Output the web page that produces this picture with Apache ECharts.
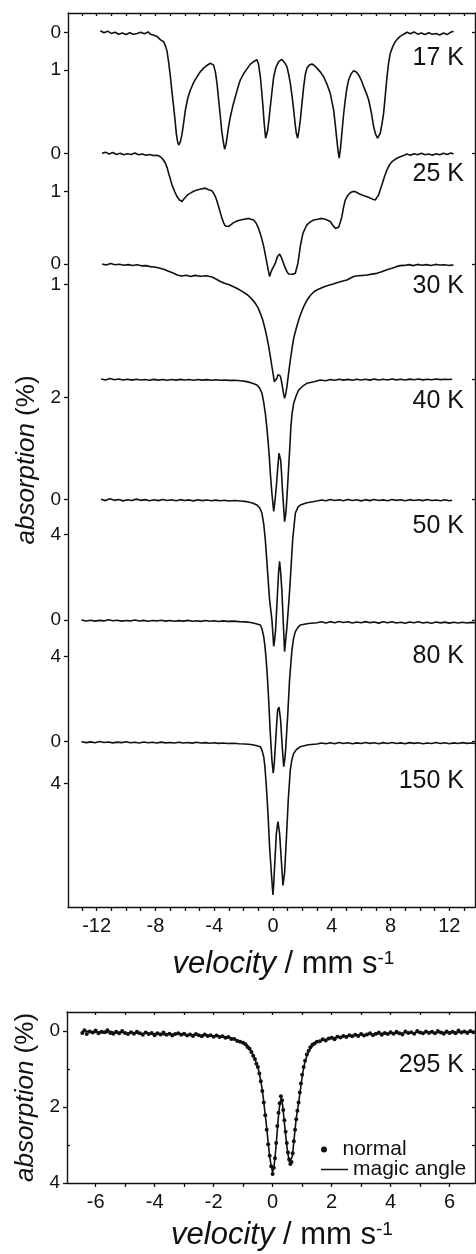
<!DOCTYPE html>
<html>
<head>
<meta charset="utf-8">
<script src="https://cdn.jsdelivr.net/npm/echarts@6/dist/echarts.min.js"></script>
<style>
  html, body { margin: 0; padding: 0; background: #fff; }
  #chart { width: 476px; height: 1254px; }
</style>
</head>
<body>
<div id="chart"></div>
<script>
// Mössbauer spectra: velocity (mm/s) vs absorption (%)
const temps = ['17 K', '25 K', '30 K', '40 K', '50 K', '80 K', '150 K'];
const scaleTicks = [1, 1, 1, 2, 4, 4, 4];

const s17K = [[-11.75,-0.04],[-11.5,0.01],[-11.25,-0.03],[-11.0,0.03],[-10.75,0.0],[-10.5,0.05],[-10.25,0.02],[-10.0,0.06],[-9.75,0.01],[-9.5,0.05],[-9.25,0.03],[-9.0,0.0],[-8.75,0.04],[-8.5,-0.01],[-8.34,0.05],[-8.1,0.08],[-7.89,0.11],[-7.65,0.2],[-7.44,0.25],[-7.3,0.38],[-7.21,0.5],[-7.1,0.8],[-6.98,1.18],[-6.87,1.6],[-6.76,1.97],[-6.66,2.35],[-6.58,2.68],[-6.5,2.88],[-6.42,2.99],[-6.3,2.9],[-6.19,2.7],[-6.08,2.4],[-5.96,2.06],[-5.8,1.75],[-5.62,1.53],[-5.4,1.33],[-5.17,1.18],[-4.95,1.05],[-4.72,0.95],[-4.5,0.88],[-4.26,0.82],[-4.15,0.83],[-4.04,0.87],[-3.92,1.05],[-3.81,1.35],[-3.7,1.78],[-3.58,2.24],[-3.49,2.6],[-3.4,2.86],[-3.29,3.1],[-3.2,2.98],[-3.13,2.8],[-3.02,2.5],[-2.9,2.24],[-2.73,1.95],[-2.56,1.71],[-2.4,1.48],[-2.22,1.26],[-2.0,1.1],[-1.77,0.97],[-1.55,0.85],[-1.32,0.78],[-1.2,0.76],[-1.09,0.73],[-0.98,0.85],[-0.86,1.18],[-0.77,1.55],[-0.68,1.97],[-0.59,2.45],[-0.5,2.81],[-0.42,2.78],[-0.36,2.6],[-0.27,2.3],[-0.18,1.97],[-0.06,1.55],[0.05,1.18],[0.2,0.93],[0.39,0.78],[0.5,0.74],[0.61,0.72],[0.78,0.8],[0.95,0.91],[1.06,1.1],[1.18,1.35],[1.3,1.7],[1.41,2.06],[1.5,2.4],[1.59,2.68],[1.68,2.81],[1.77,2.6],[1.86,2.33],[1.97,1.9],[2.09,1.44],[2.2,1.12],[2.31,0.95],[2.48,0.87],[2.65,0.84],[2.82,0.88],[2.99,0.95],[3.22,1.05],[3.45,1.18],[3.68,1.38],[3.9,1.62],[4.02,1.85],[4.13,2.06],[4.24,2.45],[4.35,2.86],[4.43,3.15],[4.51,3.34],[4.6,3.05],[4.69,2.68],[4.8,2.2],[4.92,1.79],[5.03,1.48],[5.15,1.26],[5.32,1.1],[5.49,1.02],[5.66,1.05],[5.83,1.13],[6.0,1.26],[6.17,1.44],[6.34,1.6],[6.51,1.79],[6.68,2.1],[6.85,2.5],[6.98,2.7],[7.12,2.81],[7.21,2.78],[7.3,2.68],[7.41,2.45],[7.53,2.15],[7.64,1.7],[7.76,1.18],[7.87,0.82],[7.98,0.56],[8.15,0.38],[8.32,0.25],[8.49,0.17],[8.66,0.11],[8.9,0.05],[9.12,0.0],[9.35,0.04],[9.6,-0.01],[9.85,0.05],[10.1,0.02],[10.35,0.06],[10.6,0.01],[10.85,0.05],[11.1,0.03],[11.35,0.07],[11.6,0.02],[11.85,0.06],[12.1,0.0],[12.29,-0.03]];

const s25K = [[-11.63,0.0],[-11.4,-0.03],[-11.15,0.02],[-10.9,-0.02],[-10.65,0.03],[-10.4,0.0],[-10.15,0.04],[-9.9,0.01],[-9.65,0.03],[-9.4,-0.01],[-9.15,0.04],[-8.9,0.02],[-8.65,0.05],[-8.4,0.03],[-8.15,0.06],[-7.89,0.05],[-7.66,0.09],[-7.5,0.15],[-7.32,0.26],[-7.2,0.38],[-7.1,0.52],[-6.98,0.68],[-6.87,0.83],[-6.7,0.99],[-6.53,1.13],[-6.36,1.22],[-6.19,1.26],[-6.08,1.2],[-5.96,1.15],[-5.8,1.08],[-5.62,1.04],[-5.4,0.99],[-5.17,0.96],[-4.9,0.93],[-4.6,0.91],[-4.38,0.95],[-4.15,0.98],[-4.03,1.05],[-3.92,1.13],[-3.81,1.25],[-3.7,1.39],[-3.58,1.55],[-3.47,1.7],[-3.35,1.82],[-3.24,1.9],[-3.02,1.91],[-2.85,1.86],[-2.68,1.81],[-2.45,1.77],[-2.22,1.74],[-1.95,1.72],[-1.66,1.7],[-1.49,1.72],[-1.32,1.74],[-1.15,1.82],[-0.98,1.96],[-0.8,2.18],[-0.63,2.43],[-0.52,2.65],[-0.41,2.87],[-0.32,3.05],[-0.23,3.22],[-0.15,3.12],[-0.07,3.04],[0.05,2.95],[0.16,2.87],[0.3,2.7],[0.45,2.63],[0.57,2.72],[0.68,2.83],[0.82,2.98],[0.95,3.09],[1.06,3.15],[1.18,3.17],[1.35,3.16],[1.52,3.13],[1.61,3.0],[1.7,2.87],[1.78,2.65],[1.86,2.43],[1.95,2.25],[2.04,2.09],[2.18,1.97],[2.31,1.87],[2.54,1.79],[2.77,1.74],[3.05,1.72],[3.33,1.7],[3.6,1.73],[3.9,1.78],[4.07,1.88],[4.24,1.96],[4.35,1.97],[4.47,1.93],[4.58,1.8],[4.69,1.65],[4.8,1.42],[4.92,1.22],[5.09,1.1],[5.26,1.03],[5.43,1.0],[5.6,1.0],[5.83,1.05],[6.05,1.09],[6.35,1.13],[6.62,1.17],[6.8,1.2],[6.96,1.22],[7.08,1.15],[7.19,1.09],[7.3,0.95],[7.41,0.83],[7.58,0.62],[7.76,0.43],[7.93,0.3],[8.1,0.22],[8.27,0.17],[8.44,0.13],[8.66,0.09],[8.89,0.06],[9.1,0.02],[9.35,0.05],[9.6,0.01],[9.85,0.04],[10.1,0.0],[10.35,0.04],[10.6,0.02],[10.85,0.05],[11.1,0.01],[11.35,0.04],[11.6,0.0],[11.85,0.03],[12.1,-0.01],[12.29,0.02]];

const s30K = [[-11.63,0.0],[-11.35,0.05],[-11.05,-0.02],[-10.75,0.04],[-10.45,0.01],[-10.15,0.06],[-9.85,0.03],[-9.55,0.07],[-9.25,0.04],[-8.95,0.09],[-8.65,0.08],[-8.34,0.13],[-8.05,0.15],[-7.75,0.2],[-7.44,0.26],[-7.1,0.36],[-6.76,0.46],[-6.47,0.55],[-6.19,0.59],[-5.9,0.55],[-5.6,0.62],[-5.3,0.56],[-4.94,0.6],[-4.55,0.58],[-4.15,0.64],[-3.85,0.75],[-3.58,0.86],[-3.3,0.95],[-2.98,1.02],[-2.68,1.12],[-2.4,1.22],[-2.1,1.35],[-1.77,1.5],[-1.5,1.68],[-1.2,1.94],[-1.02,2.15],[-0.86,2.43],[-0.68,2.8],[-0.52,3.25],[-0.4,3.65],[-0.29,4.07],[-0.18,4.55],[-0.07,5.06],[0.02,5.45],[0.09,5.8],[0.18,5.72],[0.27,5.63],[0.34,5.45],[0.41,5.38],[0.48,5.5],[0.54,5.63],[0.61,5.9],[0.68,6.21],[0.74,6.45],[0.79,6.62],[0.87,6.4],[0.95,6.04],[1.06,5.4],[1.18,4.73],[1.3,4.15],[1.41,3.66],[1.58,3.18],[1.75,2.76],[1.92,2.4],[2.09,2.1],[2.3,1.8],[2.54,1.55],[2.77,1.38],[2.99,1.28],[3.4,1.15],[3.79,1.05],[4.1,0.98],[4.35,0.92],[4.7,0.85],[5.03,0.79],[5.26,0.7],[5.49,0.62],[5.8,0.58],[6.1,0.56],[6.39,0.54],[6.73,0.5],[7.07,0.46],[7.4,0.38],[7.75,0.28],[8.1,0.21],[8.4,0.13],[8.66,0.08],[8.95,0.07],[9.25,0.03],[9.55,0.08],[9.85,0.02],[10.15,0.06],[10.45,0.03],[10.75,0.07],[11.05,0.02],[11.35,0.05],[11.65,0.04],[12.0,0.07],[12.29,0.05]];

const s40K = [[-11.7,0.0],[-11.4,0.1],[-11.1,-0.05],[-10.8,0.08],[-10.5,0.0],[-10.2,0.1],[-9.9,0.03],[-9.6,0.12],[-9.3,0.02],[-9.0,0.1],[-8.7,0.05],[-8.4,0.13],[-8.1,0.04],[-7.8,0.12],[-7.5,0.06],[-7.2,0.14],[-6.9,0.05],[-6.6,0.12],[-6.3,0.04],[-6.0,0.11],[-5.7,0.06],[-5.4,0.13],[-5.1,0.05],[-4.8,0.12],[-4.5,0.07],[-4.2,0.13],[-3.9,0.08],[-3.6,0.14],[-3.3,0.1],[-3.0,0.15],[-2.6,0.13],[-2.2,0.18],[-1.77,0.28],[-1.4,0.45],[-1.09,0.64],[-0.9,1.0],[-0.75,1.53],[-0.63,2.5],[-0.52,3.68],[-0.43,5.0],[-0.34,6.54],[-0.25,8.3],[-0.18,10.1],[-0.07,12.3],[0.05,14.2],[0.14,13.0],[0.23,11.5],[0.32,9.6],[0.41,7.96],[0.47,8.1],[0.52,8.68],[0.58,10.0],[0.63,11.5],[0.72,13.6],[0.79,15.3],[0.86,14.6],[0.91,13.7],[0.99,11.6],[1.07,9.4],[1.15,7.2],[1.22,5.11],[1.3,3.7],[1.41,2.6],[1.58,1.8],[1.75,1.18],[2.0,0.8],[2.31,0.46],[2.8,0.3],[3.22,0.11],[3.6,0.18],[3.9,0.05],[4.2,0.14],[4.5,0.03],[4.8,0.12],[5.1,0.04],[5.4,0.13],[5.7,0.02],[6.0,0.1],[6.3,0.03],[6.6,0.12],[6.9,0.01],[7.2,0.1],[7.5,0.03],[7.8,0.11],[8.1,0.0],[8.4,0.09],[8.7,0.02],[9.0,0.1],[9.3,0.01],[9.6,0.08],[9.9,0.0],[10.2,0.09],[10.5,0.02],[10.8,0.08],[11.1,0.0],[11.4,0.07],[11.7,0.02],[12.0,0.06],[12.2,0.03]];

const s50K = [[-11.7,0.0],[-11.4,0.15],[-11.1,-0.05],[-10.8,0.12],[-10.5,0.02],[-10.2,0.18],[-9.9,0.05],[-9.6,0.14],[-9.3,-0.02],[-9.0,0.12],[-8.7,0.04],[-8.4,0.16],[-8.1,0.06],[-7.8,0.15],[-7.5,0.02],[-7.2,0.13],[-6.9,0.05],[-6.6,0.17],[-6.3,0.04],[-6.0,0.14],[-5.7,0.07],[-5.4,0.18],[-5.1,0.06],[-4.8,0.15],[-4.5,0.08],[-4.2,0.17],[-3.9,0.09],[-3.6,0.16],[-3.3,0.1],[-3.0,0.19],[-2.6,0.14],[-2.2,0.2],[-1.77,0.27],[-1.4,0.42],[-1.09,0.65],[-0.9,1.0],[-0.75,1.6],[-0.63,2.8],[-0.52,4.65],[-0.44,6.5],[-0.36,8.46],[-0.23,11.5],[-0.07,13.8],[0.05,16.8],[0.12,16.0],[0.18,14.9],[0.3,11.0],[0.38,8.4],[0.45,7.1],[0.52,8.3],[0.61,10.5],[0.7,14.0],[0.79,17.4],[0.88,15.8],[0.95,14.6],[1.09,11.5],[1.18,9.2],[1.34,4.65],[1.52,1.6],[1.7,0.9],[1.86,0.65],[2.3,0.4],[2.99,0.2],[3.3,0.08],[3.6,0.17],[3.9,0.03],[4.2,0.14],[4.5,0.05],[4.8,0.16],[5.1,0.02],[5.4,0.13],[5.7,0.06],[6.0,0.18],[6.3,0.04],[6.6,0.15],[6.9,0.03],[7.2,0.14],[7.5,0.07],[7.8,0.16],[8.1,0.02],[8.4,0.12],[8.7,0.05],[9.0,0.17],[9.3,0.04],[9.6,0.13],[9.9,0.06],[10.2,0.15],[10.5,0.03],[10.8,0.14],[11.1,0.08],[11.4,0.16],[11.7,0.05],[12.0,0.17],[12.2,0.1]];

const s80K = [[-13.04,0.0],[-12.7,0.1],[-12.4,0.02],[-12.1,0.12],[-11.8,0.04],[-11.5,0.1],[-11.2,-0.02],[-10.9,0.09],[-10.6,0.03],[-10.3,0.12],[-10.0,0.05],[-9.7,0.1],[-9.4,0.0],[-9.1,0.11],[-8.8,0.04],[-8.5,0.13],[-8.2,0.06],[-7.9,0.1],[-7.6,0.02],[-7.3,0.12],[-7.0,0.05],[-6.7,0.14],[-6.4,0.07],[-6.1,0.12],[-5.8,0.04],[-5.5,0.13],[-5.2,0.08],[-4.9,0.15],[-4.6,0.06],[-4.3,0.13],[-4.0,0.09],[-3.7,0.16],[-3.4,0.1],[-3.1,0.15],[-2.7,0.12],[-2.3,0.18],[-1.9,0.2],[-1.5,0.28],[-1.15,0.4],[-0.86,0.55],[-0.75,0.95],[-0.63,1.82],[-0.55,2.8],[-0.48,4.0],[-0.41,5.5],[-0.34,7.3],[-0.26,9.8],[-0.18,12.4],[-0.07,15.3],[0.02,16.7],[0.09,15.6],[0.16,13.8],[0.24,11.6],[0.32,9.8],[0.41,9.5],[0.52,10.9],[0.63,13.8],[0.73,16.0],[0.79,15.4],[0.86,14.2],[1.0,10.5],[1.13,6.5],[1.29,3.3],[1.4,2.0],[1.52,1.27],[1.7,0.8],[1.86,0.55],[2.4,0.38],[2.99,0.3],[3.3,0.2],[3.6,0.32],[3.9,0.18],[4.2,0.3],[4.5,0.16],[4.8,0.28],[5.1,0.2],[5.4,0.33],[5.7,0.22],[6.0,0.3],[6.3,0.18],[6.6,0.29],[6.9,0.21],[7.2,0.34],[7.5,0.2],[7.8,0.3],[8.1,0.19],[8.4,0.32],[8.7,0.24],[9.0,0.36],[9.3,0.22],[9.6,0.3],[9.9,0.2],[10.2,0.33],[10.5,0.24],[10.8,0.35],[11.1,0.22],[11.4,0.31],[11.7,0.23],[12.0,0.34],[12.3,0.25],[12.6,0.33],[12.9,0.24],[13.2,0.32],[13.5,0.26],[13.75,0.3]];

const s150K = [[-13.04,0.0],[-12.7,0.09],[-12.4,0.02],[-12.1,0.1],[-11.8,-0.02],[-11.5,0.08],[-11.2,0.03],[-10.9,0.11],[-10.6,0.04],[-10.3,0.09],[-10.0,0.01],[-9.7,0.1],[-9.4,0.05],[-9.1,0.12],[-8.8,0.03],[-8.5,0.1],[-8.2,0.06],[-7.9,0.13],[-7.6,0.04],[-7.3,0.11],[-7.0,0.07],[-6.7,0.12],[-6.4,0.05],[-6.1,0.13],[-5.8,0.08],[-5.5,0.14],[-5.2,0.06],[-4.9,0.12],[-4.6,0.09],[-4.3,0.15],[-4.0,0.1],[-3.7,0.16],[-3.4,0.12],[-3.1,0.17],[-2.7,0.15],[-2.3,0.19],[-1.9,0.22],[-1.5,0.27],[-1.15,0.36],[-0.86,0.48],[-0.75,0.8],[-0.63,1.44],[-0.55,2.4],[-0.48,3.68],[-0.41,5.2],[-0.34,6.88],[-0.23,10.1],[-0.11,12.6],[0.0,14.7],[0.05,13.7],[0.11,12.0],[0.23,8.8],[0.34,7.68],[0.45,8.8],[0.57,11.4],[0.68,13.8],[0.79,12.6],[0.91,9.4],[1.04,5.6],[1.18,2.7],[1.29,1.7],[1.41,1.12],[1.6,0.75],[1.86,0.48],[2.4,0.3],[2.99,0.22],[3.3,0.12],[3.6,0.2],[3.9,0.1],[4.2,0.19],[4.5,0.08],[4.8,0.17],[5.1,0.1],[5.4,0.2],[5.7,0.11],[6.0,0.18],[6.3,0.07],[6.6,0.16],[6.9,0.1],[7.2,0.19],[7.5,0.09],[7.8,0.17],[8.1,0.08],[8.4,0.18],[8.7,0.11],[9.0,0.2],[9.3,0.09],[9.6,0.16],[9.9,0.1],[10.2,0.19],[10.5,0.12],[10.8,0.18],[11.1,0.08],[11.4,0.17],[11.7,0.1],[12.0,0.19],[12.3,0.11],[12.6,0.18],[12.9,0.09],[13.2,0.16],[13.5,0.12],[13.75,0.17]];

// 295 K: magic-angle measurement (line) and normal geometry (points)
const magic295K = [[-6.47,0.03],[-6.3,0.0],[-6.1,0.05],[-5.9,0.02],[-5.7,0.06],[-5.5,0.01],[-5.3,0.05],[-5.1,0.03],[-4.9,0.07],[-4.7,0.04],[-4.5,0.08],[-4.3,0.05],[-4.1,0.08],[-3.9,0.06],[-3.7,0.1],[-3.5,0.07],[-3.3,0.09],[-3.1,0.07],[-2.9,0.11],[-2.7,0.09],[-2.5,0.12],[-2.3,0.1],[-2.1,0.13],[-1.9,0.12],[-1.7,0.15],[-1.5,0.17],[-1.33,0.2],[-1.1,0.27],[-0.88,0.36],[-0.75,0.5],[-0.66,0.62],[-0.57,0.8],[-0.49,0.97],[-0.43,1.2],[-0.37,1.46],[-0.31,1.8],[-0.26,2.15],[-0.2,2.55],[-0.15,2.95],[-0.1,3.3],[-0.05,3.55],[0.0,3.72],[0.05,3.55],[0.09,3.25],[0.13,2.9],[0.18,2.4],[0.23,2.0],[0.29,1.76],[0.34,1.95],[0.39,2.35],[0.45,2.8],[0.51,3.2],[0.57,3.45],[0.62,3.5],[0.67,3.3],[0.72,2.9],[0.8,2.3],[0.88,1.9],[0.95,1.5],[1.02,1.1],[1.1,0.8],[1.2,0.56],[1.33,0.4],[1.44,0.31],[1.7,0.24],[2.06,0.18],[2.3,0.15],[2.5,0.13],[2.7,0.12],[2.9,0.1],[3.1,0.11],[3.3,0.08],[3.5,0.09],[3.7,0.06],[3.9,0.08],[4.1,0.05],[4.3,0.07],[4.5,0.04],[4.7,0.06],[4.9,0.03],[5.1,0.05],[5.3,0.02],[5.5,0.05],[5.7,0.03],[5.9,0.05],[6.1,0.02],[6.3,0.04],[6.5,0.01],[6.7,0.03],[6.85,0.02]];

const normal295K = [[-6.45,0.05],[-6.38,-0.02],[-6.3,0.08],[-6.2,0.01],[-6.1,0.04],[-6.0,-0.01],[-5.9,0.06],[-5.8,0.02],[-5.7,0.03],[-5.6,-0.02],[-5.5,0.05],[-5.4,0.07],[-5.3,0.02],[-5.2,0.06],[-5.1,0.0],[-5.0,0.05],[-4.9,0.08],[-4.8,0.03],[-4.7,0.07],[-4.6,0.02],[-4.5,0.06],[-4.4,0.1],[-4.3,0.04],[-4.2,0.08],[-4.1,0.05],[-4.0,0.11],[-3.9,0.06],[-3.8,0.09],[-3.7,0.04],[-3.6,0.1],[-3.5,0.07],[-3.4,0.12],[-3.3,0.08],[-3.2,0.06],[-3.1,0.1],[-3.0,0.07],[-2.9,0.12],[-2.8,0.09],[-2.7,0.13],[-2.6,0.08],[-2.5,0.11],[-2.4,0.14],[-2.3,0.09],[-2.2,0.13],[-2.1,0.11],[-2.0,0.15],[-1.9,0.12],[-1.8,0.16],[-1.7,0.14],[-1.6,0.18],[-1.5,0.16],[-1.4,0.21],[-1.3,0.21],[-1.2,0.26],[-1.1,0.28],[-1.0,0.31],[-0.92,0.35],[-0.85,0.42],[-0.78,0.47],[-0.72,0.55],[-0.66,0.65],[-0.6,0.74],[-0.55,0.86],[-0.5,0.95],[-0.45,1.12],[-0.4,1.32],[-0.35,1.58],[-0.3,1.88],[-0.25,2.22],[-0.2,2.6],[-0.15,2.98],[-0.1,3.28],[-0.05,3.56],[0.0,3.76],[0.04,3.6],[0.08,3.35],[0.12,2.95],[0.16,2.5],[0.2,2.15],[0.24,1.9],[0.28,1.72],[0.32,1.82],[0.36,2.08],[0.4,2.35],[0.44,2.65],[0.48,2.95],[0.52,3.2],[0.56,3.38],[0.6,3.5],[0.64,3.45],[0.68,3.22],[0.72,2.9],[0.76,2.6],[0.8,2.32],[0.84,2.1],[0.88,1.88],[0.92,1.62],[0.96,1.38],[1.0,1.15],[1.05,0.95],[1.1,0.78],[1.16,0.62],[1.22,0.52],[1.28,0.43],[1.35,0.36],[1.42,0.33],[1.5,0.28],[1.6,0.27],[1.7,0.22],[1.8,0.25],[1.9,0.2],[2.0,0.18],[2.1,0.22],[2.2,0.15],[2.3,0.17],[2.4,0.13],[2.5,0.16],[2.6,0.11],[2.7,0.14],[2.8,0.1],[2.9,0.13],[3.0,0.08],[3.1,0.12],[3.2,0.09],[3.3,0.06],[3.4,0.11],[3.5,0.07],[3.6,0.04],[3.7,0.1],[3.8,0.05],[3.9,0.08],[4.0,0.03],[4.1,0.07],[4.2,0.02],[4.3,0.06],[4.4,0.09],[4.5,0.01],[4.6,0.05],[4.7,0.03],[4.8,0.07],[4.9,0.0],[5.0,0.04],[5.1,0.06],[5.2,0.01],[5.3,0.05],[5.4,0.02],[5.5,0.06],[5.6,0.0],[5.7,0.04],[5.8,0.07],[5.9,0.01],[6.0,0.05],[6.1,0.02],[6.2,0.06],[6.3,-0.01],[6.4,0.04],[6.5,0.01],[6.6,0.05],[6.7,0.0],[6.8,0.03]];

const topTickLabels = [-12, -8, -4, 0, 4, 8, 12];
const bottomTickLabels = [-6, -4, -2, 0, 2, 4, 6];
const bottomYLabels = [0, 2, 4];

const spectra = [s17K, s25K, s30K, s40K, s50K, s80K, s150K];

// ---- layout (pixels) ----
const FONT = '"Liberation Sans", Arial, Helvetica, sans-serif';
const INK = '#111';
const panelA = { left: 68, top: 13, width: 407, height: 894 };
const panelB = { left: 67, top: 1012, width: 408, height: 171 };
// where each spectrum's zero line sits and how many pixels one percent spans
const stackLayout = [
  { zero: 32.3, unit: 37.7, labelY: 59 },
  { zero: 153.3, unit: 38.3, labelY: 175 },
  { zero: 264.0, unit: 20.3, labelY: 287 },
  { zero: 379.0, unit: 9.33, labelY: 402 },
  { zero: 499.3, unit: 8.75, labelY: 527 },
  { zero: 620.0, unit: 9.17, labelY: 657 },
  { zero: 741.7, unit: 10.42, labelY: 782 }
];

function intRange(a, b) { const r = []; for (let i = a; i <= b; i++) r.push(i); return r; }

const xRangeTop = { min: -13.95, max: 13.75 };
const xRangeBot = { min: -6.97, max: 6.86 };

const axisLineStyle = { show: true, onZero: false, lineStyle: { color: INK, width: 1.4 } };
const noLine = { show: false, onZero: false };
const tickStyle = { color: INK, width: 1.3 };
const labelBase = { color: INK, fontFamily: FONT };

const velocityName = {
  name: '{i|velocity} / mm s{s|-1}', nameLocation: 'middle',
  nameTextStyle: {
    color: INK, fontFamily: FONT, fontSize: 31,
    rich: { i: { fontStyle: 'italic', fontSize: 31, fontFamily: FONT, color: INK },
            s: { fontSize: 19, fontFamily: FONT, color: INK, verticalAlign: 'top' } }
  }
};

const xAxes = [
  Object.assign({
    gridIndex: 0, type: 'value', position: 'bottom', ...xRangeTop,
    axisLine: axisLineStyle, splitLine: { show: false },
    axisTick: { show: true, length: 4, customValues: intRange(-13, 13), lineStyle: tickStyle },
    axisLabel: { ...labelBase, fontSize: 20, margin: 9, customValues: topTickLabels }
  }, velocityName, { nameGap: 42, nameTextStyle: Object.assign({}, velocityName.nameTextStyle, { padding: [0, 0, 0, 24] }) }),
  {
    gridIndex: 0, type: 'value', position: 'top', ...xRangeTop,
    axisLine: axisLineStyle, splitLine: { show: false },
    axisTick: { show: true, inside: true, length: 3, customValues: intRange(-13, 13), lineStyle: tickStyle },
    axisLabel: { show: false }
  },
  Object.assign({
    gridIndex: 1, type: 'value', position: 'bottom', ...xRangeBot,
    axisLine: axisLineStyle, splitLine: { show: false },
    axisTick: { show: true, length: 4, customValues: intRange(-6, 6), lineStyle: tickStyle },
    axisLabel: { ...labelBase, fontSize: 20, margin: 9, customValues: bottomTickLabels }
  }, velocityName, { nameGap: 37, nameTextStyle: Object.assign({}, velocityName.nameTextStyle, { padding: [0, 0, 0, 22] }) }),
  {
    gridIndex: 1, type: 'value', position: 'top', ...xRangeBot,
    axisLine: axisLineStyle, splitLine: { show: false },
    axisTick: { show: true, inside: true, length: 3, customValues: intRange(-6, 6), lineStyle: tickStyle },
    axisLabel: { show: false }
  }
];

const yAxes = [];
const series = [];
const yTitle = {
  name: '{i|absorption} (%)', nameLocation: 'middle', nameGap: 28, nameRotate: 90,
  nameTextStyle: { color: INK, fontFamily: FONT, fontSize: 26,
    rich: { i: { fontStyle: 'italic', fontSize: 26, fontFamily: FONT, color: INK } } }
};

stackLayout.forEach((L, i) => {
  const min = -(L.zero - panelA.top) / L.unit;
  const max = (panelA.top + panelA.height - L.zero) / L.unit;
  // left: tick labels "0" and scale step
  yAxes.push(Object.assign({
    gridIndex: 0, type: 'value', position: 'left', inverse: true, min, max,
    axisLine: i === 0 ? axisLineStyle : noLine,
    splitLine: { show: false },
    axisTick: { show: true, length: 4, customValues: [0, scaleTicks[i]], lineStyle: tickStyle },
    axisLabel: { ...labelBase, fontSize: 19, margin: 7, customValues: [0, scaleTicks[i]] }
  }, i === 0 ? Object.assign({}, yTitle) : {}));
  // right: zero marker only
  yAxes.push({
    gridIndex: 0, type: 'value', position: 'right', inverse: true, min, max,
    axisLine: i === 0 ? axisLineStyle : noLine,
    splitLine: { show: false },
    axisTick: { show: true, inside: true, length: 3, customValues: [0], lineStyle: tickStyle },
    axisLabel: { show: false }
  });
  series.push({
    name: temps[i], type: 'line', xAxisIndex: 0, yAxisIndex: yAxes.length - 2,
    data: spectra[i], symbol: 'none', silent: true, animation: false,
    lineStyle: { color: INK, width: 1.6 }
  });
});

// bottom panel axes
const botMin = -0.5, botMax = 4;
yAxes.push(Object.assign({
  gridIndex: 1, type: 'value', position: 'left', inverse: true, min: botMin, max: botMax,
  axisLine: axisLineStyle, splitLine: { show: false },
  axisTick: { show: true, length: 4, customValues: bottomYLabels, lineStyle: tickStyle },
  axisLabel: { ...labelBase, fontSize: 19, margin: 7, customValues: bottomYLabels }
}, yTitle));
const botLeftIdx = yAxes.length - 1;
yAxes.push({
  gridIndex: 1, type: 'value', position: 'left', inverse: true, min: botMin, max: botMax,
  axisLine: noLine, splitLine: { show: false },
  axisTick: { show: true, inside: true, length: 3, customValues: [1, 3], lineStyle: tickStyle },
  axisLabel: { show: false }
});
yAxes.push({
  gridIndex: 1, type: 'value', position: 'right', inverse: true, min: botMin, max: botMax,
  axisLine: axisLineStyle, splitLine: { show: false },
  axisTick: { show: true, inside: true, length: 3, customValues: [0, 1, 2, 3], lineStyle: tickStyle },
  axisLabel: { show: false }
});

series.push({
  name: 'normal', type: 'scatter', xAxisIndex: 2, yAxisIndex: botLeftIdx,
  data: normal295K, symbol: 'circle', symbolSize: 4, silent: true, animation: false,
  itemStyle: { color: INK, opacity: 1 }
});
series.push({
  name: 'magic angle', type: 'line', xAxisIndex: 2, yAxisIndex: botLeftIdx,
  data: magic295K, symbol: 'none', silent: true, animation: false,
  lineStyle: { color: INK, width: 1.6 }, itemStyle: { color: INK }
});

// temperature annotations
const graphic = stackLayout.map((L, i) => ({
  type: 'text', right: 476 - 464, top: L.labelY - 13,
  style: { text: temps[i], font: '25px ' + FONT, fill: INK }
}));
graphic.push({
  type: 'text', right: 476 - 464, top: 1066 - 13,
  style: { text: '295 K', font: '25px ' + FONT, fill: INK }
});

const legendText = { color: INK, fontFamily: FONT, fontSize: 21 };

const option = {
  backgroundColor: '#fff',
  animation: false,
  grid: [
    { left: panelA.left, top: panelA.top, width: panelA.width, height: panelA.height, containLabel: false },
    { left: panelB.left, top: panelB.top, width: panelB.width, height: panelB.height, containLabel: false }
  ],
  xAxis: xAxes,
  yAxis: yAxes,
  legend: [
    { data: ['normal'], left: 321, top: 1139, padding: 0, itemWidth: 27, itemHeight: 6,
      icon: 'circle', selectedMode: false, textStyle: legendText, itemGap: 0 },
    { data: ['magic angle'], left: 321, top: 1159, padding: 0, itemWidth: 27, itemHeight: 1.5,
      icon: 'rect', selectedMode: false, textStyle: legendText, itemGap: 0 }
  ],
  graphic,
  series
};

const chart = echarts.init(document.getElementById('chart'), null, { renderer: 'canvas' });
chart.setOption(option);
</script>
</body>
</html>
